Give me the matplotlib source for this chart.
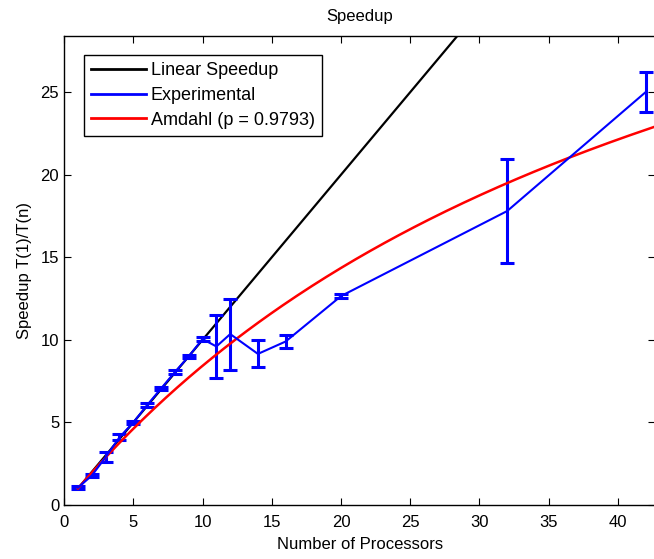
import numpy as np
import matplotlib
matplotlib.use('Agg')
import matplotlib.pyplot as plt
from matplotlib.lines import Line2D

plt.rcParams['font.family'] = ['Liberation Sans Narrow', 'Liberation Sans', 'DejaVu Sans']

# measured speedup (mean and half-width of error bar)
procs = [1, 2, 3, 4, 5, 6, 7, 8, 9, 10, 11, 12, 14, 16, 20, 32, 42]
speedup = [1.05, 1.78, 2.9, 4.1, 5.0, 6.05, 7.05, 8.05, 9.0, 10.05,
           9.6, 10.35, 9.15, 9.9, 12.65, 17.8, 25.0]
err = [0.1, 0.1, 0.28, 0.18, 0.1, 0.1, 0.1, 0.1, 0.1, 0.1,
       1.9, 2.15, 0.82, 0.4, 0.1, 3.15, 1.2]

p = 0.9793
n_lin = [1, 43]
n_amd = np.linspace(1, 43, 200)
amdahl = 1.0 / ((1 - p) + p / n_amd)
labels = ['Linear Speedup', 'Experimental', 'Amdahl (p = %.4f)' % p]

fig = plt.figure(figsize=(6.54, 5.59), dpi=100)
ax = fig.add_axes([0.098, 0.0966, 0.904, 0.839])

ax.plot(n_lin, n_lin, color='black', lw=1.6)
ax.errorbar(procs, speedup, yerr=err, color='blue', lw=1.5, elinewidth=2.2,
            capsize=4.8, capthick=2.2)
ax.plot(n_amd, amdahl, color='red', lw=1.8)

ax.set_xlim(0, 42.7)
ax.set_ylim(0, 28.4)
ax.set_xticks(range(0, 45, 5))
ax.set_yticks(range(0, 30, 5))
ax.tick_params(direction='in', top=True, right=True, length=5, labelsize=12)
ax.tick_params(axis='x', pad=7)
for s in ax.spines.values():
    s.set_linewidth(1.0)

ax.set_title('Speedup', fontsize=12, pad=11)
ax.set_xlabel('Number of Processors', fontsize=12, labelpad=5)
ax.set_ylabel('Speedup T(1)/T(n)', fontsize=12, labelpad=6)

handles = [Line2D([], [], color='black', lw=2),
           Line2D([], [], color='blue', lw=2),
           Line2D([], [], color='red', lw=2)]
leg = ax.legend(handles, labels, loc='upper left', bbox_to_anchor=(0.034, 0.959),
                fontsize=13, fancybox=False, edgecolor='black', framealpha=1,
                borderpad=0.4, labelspacing=0.42, handlelength=3.0, handletextpad=0.3,
                borderaxespad=0)
leg.get_frame().set_linewidth(1.0)

fig.savefig('out.png', dpi=100)
